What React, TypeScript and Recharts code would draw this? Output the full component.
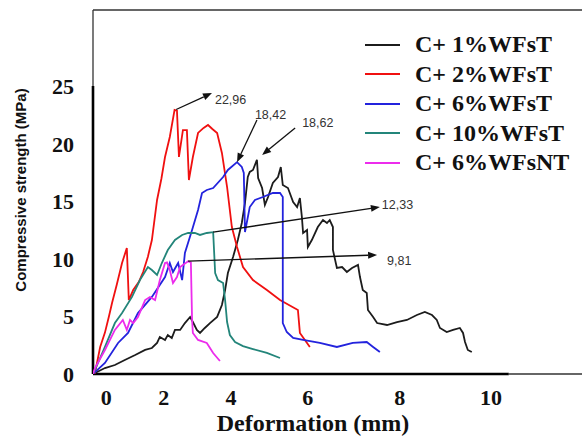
import React from 'react';
import { LineChart, Line, XAxis, YAxis, ReferenceLine } from 'recharts';

type Pt = { x: number; y: number };
const toPts = (rows: number[][]): Pt[] => rows.map(([x, y]) => ({ x, y }));

// deformation (mm) / compressive strength (MPa)
const wfst1 = toPts([
  [0, 0], [0.05, 0.09], [0.3, 0.52], [0.55, 0.78], [0.8, 1.22], [1.06, 1.65], [1.31, 2.09],
  [1.48, 2.26], [1.61, 2.7], [1.68, 3.22], [1.81, 2.96], [1.88, 3.39], [1.98, 3.13],
  [2.06, 3.83], [2.19, 3.83], [2.31, 4.43], [2.44, 4.96], [2.51, 4.52], [2.61, 3.83],
  [2.69, 3.57], [2.81, 4.0], [2.94, 4.43], [3.12, 4.96], [3.24, 6.0], [3.32, 7.3],
  [3.39, 8.78], [3.52, 10.17], [3.64, 11.65], [3.74, 13.13], [3.82, 14.87], [3.89, 17.13],
  [3.94, 17.57], [4.02, 17.74], [4.12, 18.62], [4.15, 17.04], [4.25, 16.17], [4.32, 14.7],
  [4.4, 15.39], [4.52, 16.61], [4.65, 17.13], [4.72, 18.0], [4.77, 16.43], [4.9, 16.17],
  [5.03, 14.96], [5.13, 14.52], [5.2, 15.3], [5.25, 13.65], [5.28, 12.26], [5.38, 12.52],
  [5.4, 11.04], [5.5, 11.65], [5.65, 12.78], [5.78, 13.39], [5.88, 13.13], [5.95, 13.39],
  [6.03, 12.78], [6.03, 10.78], [6.13, 9.22], [6.26, 9.3], [6.38, 8.87], [6.51, 9.22],
  [6.66, 9.48], [6.71, 8.43], [6.78, 7.3], [6.88, 7.04], [6.91, 5.57], [7.04, 4.96],
  [7.14, 4.43], [7.39, 4.26], [7.64, 4.52], [7.89, 4.7], [8.14, 5.13], [8.34, 5.39],
  [8.52, 5.13], [8.64, 4.7], [8.72, 4.0], [8.89, 3.65], [9.05, 3.83], [9.22, 4.0],
  [9.3, 3.57], [9.35, 2.78], [9.42, 2.09], [9.52, 1.91],
]);

const wfst2 = toPts([
  [0, 0], [0.05, 0.1], [0.18, 2.35], [0.3, 3.6], [0.4, 5.0], [0.48, 6.2], [0.6, 7.8],
  [0.73, 9.65], [0.85, 10.96], [0.9, 6.43], [1.01, 7.3], [1.15, 8.0], [1.26, 8.87],
  [1.38, 10.2], [1.48, 11.65], [1.61, 15.13], [1.72, 17.0], [1.81, 18.87], [1.93, 20.61],
  [2.05, 22.96], [2.11, 22.9], [2.16, 18.87], [2.26, 21.2], [2.36, 21.2], [2.41, 16.87],
  [2.51, 18.87], [2.64, 20.96], [2.78, 21.4], [2.89, 21.65], [3.0, 21.3], [3.12, 20.96],
  [3.24, 19.22], [3.37, 16.26], [3.49, 12.78], [3.62, 11.04], [3.77, 9.3], [4.02, 8.17],
  [4.37, 7.3], [4.7, 6.43], [5.15, 5.57], [5.2, 3.57], [5.45, 2.35],
]);

const wfst6 = toPts([
  [0, 0], [0.05, 0.17], [0.3, 0.96], [0.63, 2.7], [0.88, 3.57], [1.13, 5.3], [1.48, 6.7],
  [1.81, 8.43], [1.93, 9.65], [2.01, 8.87], [2.14, 9.65], [2.24, 8.17], [2.31, 10.52],
  [2.49, 12.52], [2.64, 14.26], [2.74, 15.74], [2.86, 16.0], [3.02, 16.17], [3.27, 17.13],
  [3.39, 17.74], [3.62, 18.42], [3.74, 18.0], [3.79, 17.48], [3.82, 12.35], [3.94, 14.52],
  [4.07, 15.13], [4.27, 15.39], [4.52, 15.74], [4.7, 15.74], [4.77, 15.39], [4.77, 4.43],
  [4.87, 3.65], [5.03, 3.13], [5.28, 2.96], [5.7, 2.7], [6.13, 2.35], [6.53, 2.7],
  [6.88, 2.78], [7.04, 2.35], [7.21, 1.91],
]);

const wfst10 = toPts([
  [0, 0], [0.05, 0.35], [0.3, 2.35], [0.55, 4.43], [0.73, 5.3], [0.98, 6.7], [1.18, 8.17],
  [1.38, 9.3], [1.48, 9.04], [1.61, 8.61], [1.73, 9.65], [1.88, 10.78], [2.06, 11.65],
  [2.24, 12.09], [2.39, 12.26], [2.56, 12.26], [2.69, 12.09], [2.86, 12.26], [3.02, 12.33],
  [3.07, 8.78], [3.14, 8.17], [3.27, 7.91], [3.32, 6.43], [3.37, 4.52], [3.44, 3.39],
  [3.57, 2.78], [3.77, 2.43], [4.02, 2.17], [4.37, 1.83], [4.7, 1.39],
]);

const wfsnt6 = toPts([
  [0, 0], [0.05, 0.52], [0.3, 2.09], [0.55, 3.83], [0.75, 4.7], [0.85, 3.83], [0.93, 4.7],
  [1.01, 4.43], [1.13, 4.96], [1.31, 6.43], [1.43, 6.7], [1.56, 6.43], [1.68, 8.17],
  [1.81, 9.65], [1.86, 9.7], [1.93, 9.04], [2.01, 7.91], [2.11, 8.43], [2.19, 9.3],
  [2.31, 9.6], [2.39, 9.81], [2.46, 9.7], [2.49, 4.7], [2.51, 3.57], [2.64, 2.96],
  [2.86, 2.7], [3.02, 1.83], [3.19, 1.13],
]);

const SERIES = [
  { name: 'C+ 1%WFsT', color: '#1c1c1c', data: wfst1 },
  { name: 'C+ 2%WFsT', color: '#f01010', data: wfst2 },
  { name: 'C+ 6%WFsT', color: '#2323dd', data: wfst6 },
  { name: 'C+ 10%WFsT', color: '#23857a', data: wfst10 },
  { name: 'C+ 6%WFsNT', color: '#ec2cec', data: wfsnt6 },
];

// peak value call-outs: arrow from -> to (head at "to"), text sits at one end
const annotations = [
  { label: '22,96', from: { x: 2.09, y: 23.0 }, to: { x: 2.99, y: 24.43 }, textAt: 'to' },
  { label: '18,42', from: { x: 4.12, y: 22.09 }, to: { x: 3.62, y: 18.42 }, textAt: 'from' },
  { label: '18,62', from: { x: 5.08, y: 21.39 }, to: { x: 4.25, y: 19.04 }, textAt: 'from' },
  { label: '12,33', from: { x: 3.02, y: 12.33 }, to: { x: 7.21, y: 14.52 }, textAt: 'to' },
  { label: '9,81', from: { x: 2.39, y: 9.81 }, to: { x: 7.14, y: 10.35 }, textAt: 'to' },
];
const labelNudge: Record<string, [number, number]> = {
  '22,96': [3, 7], '18,42': [-2, -5], '18,62': [7, -5], '12,33': [2, -2], '9,81': [10, 6],
};

const xTickPos = [0.33, 1.78, 3.47, 5.4, 7.71, 10];
const xTickLabels = ['0', '2', '4', '6', '8', '10'];
const yTicks = [0, 5, 10, 15, 20, 25];

const X_MAX = 12.29;
const Y_MAX = 31.65;
const THICK_X_END = 10.45;
const THICK_Y_END = 25.04;

const serif = '"Liberation Serif", "Times New Roman", serif';
const sans = '"Liberation Sans", Arial, sans-serif';

const arrowShape = (ann: typeof annotations[number]) => (p: any) => {
  const { x1, y1, x2, y2 } = p;
  const ang = Math.atan2(y2 - y1, x2 - x1);
  const len = 9, half = 3.5;
  const bx = x2 - len * Math.cos(ang);
  const by = y2 - len * Math.sin(ang);
  const s = Math.sin(ang), c = Math.cos(ang);
  const pts = `${x2},${y2} ${bx + half * s},${by - half * c} ${bx - half * s},${by + half * c}`;
  const [dx, dy] = labelNudge[ann.label];
  const tx = (ann.textAt === 'to' ? x2 : x1) + dx;
  const ty = (ann.textAt === 'to' ? y2 : y1) + dy;
  return (
    <g>
      <line x1={x1} y1={y1} x2={bx} y2={by} stroke="#111" strokeWidth={1.3} />
      <polygon points={pts} fill="#111" />
      <text x={tx} y={ty} dominantBaseline="central" fontFamily={sans} fontSize={12.5} fill="#333">
        {ann.label}
      </text>
    </g>
  );
};

const LegendBox = () => (
  <div
    style={{
      position: 'absolute', top: 30, left: 365,
      fontFamily: serif, fontWeight: 700, fontSize: 24, color: '#111',
    }}
  >
    {SERIES.map((s) => (
      <div key={s.name} style={{ display: 'flex', alignItems: 'center', height: 29.5 }}>
        <div style={{ width: 35, height: 2, background: s.color, marginRight: 15 }} />
        <span style={{ lineHeight: '29.5px', whiteSpace: 'nowrap' }}>{s.name}</span>
      </div>
    ))}
  </div>
);

export default function App() {
  return (
    <div style={{ position: 'absolute', left: 0, top: 0, width: 582, height: 437, background: '#fff', overflow: 'hidden' }}>
      <LineChart width={582} height={437} margin={{ top: 10, right: 0, bottom: 0, left: 0 }}>
        <XAxis
          type="number"
          dataKey="x"
          domain={[0, X_MAX]}
          allowDataOverflow
          ticks={xTickPos}
          interval={0}
          tickFormatter={(_v: number, i: number) => xTickLabels[i]}
          axisLine={false}
          tickLine={false}
          tickSize={0}
          tickMargin={15}
          height={63}
          tick={{ fontFamily: serif, fontWeight: 700, fontSize: 22, fill: '#111' }}
        />
        <YAxis
          type="number"
          domain={[0, Y_MAX]}
          allowDataOverflow
          ticks={yTicks}
          interval={0}
          axisLine={false}
          tickLine={false}
          tickSize={0}
          tickMargin={19}
          width={93}
          tick={{ fontFamily: serif, fontWeight: 700, fontSize: 22, fill: '#111' }}
        />
        {/* frame and axes */}
        <ReferenceLine segment={[{ x: 0, y: Y_MAX }, { x: X_MAX, y: Y_MAX }]} stroke="#333" strokeWidth={1.3} ifOverflow="visible" />
        <ReferenceLine segment={[{ x: 0, y: THICK_Y_END }, { x: 0, y: Y_MAX }]} stroke="#333" strokeWidth={1.3} ifOverflow="visible" />
        <ReferenceLine segment={[{ x: 0, y: 0 }, { x: 0, y: THICK_Y_END }]} stroke="#000" strokeWidth={2.6} ifOverflow="visible" />
        <ReferenceLine segment={[{ x: 0, y: 0 }, { x: THICK_X_END, y: 0 }]} stroke="#000" strokeWidth={2.6} ifOverflow="visible" />
        <ReferenceLine segment={[{ x: THICK_X_END, y: 0 }, { x: X_MAX, y: 0 }]} stroke="#333" strokeWidth={1.3} ifOverflow="visible" />
        {SERIES.map((s) => (
          <Line
            key={s.name}
            data={s.data}
            dataKey="y"
            name={s.name}
            type="linear"
            stroke={s.color}
            strokeWidth={1.8}
            dot={false}
            activeDot={false}
            isAnimationActive={false}
          />
        ))}
        {annotations.map((a) => (
          <ReferenceLine key={a.label} segment={[a.from, a.to]} ifOverflow="visible" shape={arrowShape(a)} />
        ))}
      </LineChart>
      <LegendBox />
      <div
        style={{
          position: 'absolute', left: 20, top: 190, transform: 'translate(-50%, -50%) rotate(-90deg)',
          fontFamily: sans, fontWeight: 700, fontSize: 15, whiteSpace: 'nowrap', color: '#111',
        }}
      >
        Compressive strength (MPa)
      </div>
      <div
        style={{
          position: 'absolute', left: 313, top: 423, transform: 'translate(-50%, -50%)',
          fontFamily: serif, fontWeight: 700, fontSize: 24, whiteSpace: 'nowrap', color: '#111',
        }}
      >
        Deformation (mm)
      </div>
    </div>
  );
}
